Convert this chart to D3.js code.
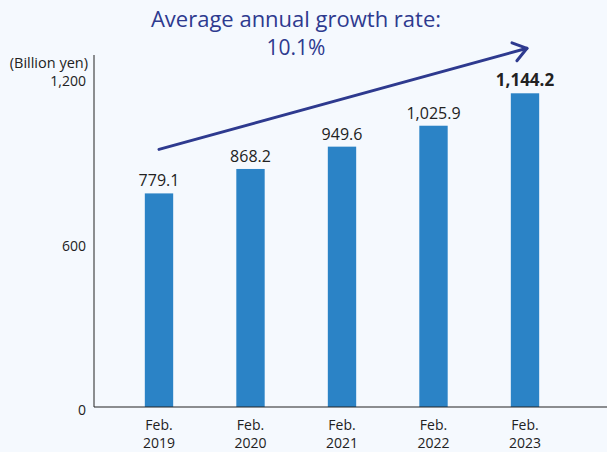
<!DOCTYPE html>
<meta charset="utf-8">
<style>
body { margin: 0; background: #f5f9fe; }
text { font-family: "Open Sans", sans-serif; fill: #222; }
</style>
<body>
<script src="https://cdn.jsdelivr.net/npm/d3@7"></script>
<script>

// data
var years = ["2019", "2020", "2021", "2022", "2023"];
var values = [779.1, 868.2, 949.6, 1025.9, 1144.2];
var yTicks = [0, 600, 1200];

var width = 607, height = 452;

var svg = d3.select("body").append("svg")
    .attr("width", width)
    .attr("height", height);

svg.append("rect")
    .attr("width", width).attr("height", height)
    .attr("fill", "#f5f9fe");

// scales
var x = d3.scaleBand().domain(years).range([113.25, 570.75])
    .paddingInner(0.69).paddingOuter(0.345);
var y = d3.scaleLinear().domain([0, 1200]).range([407, 78]);

// bars
svg.selectAll(".bar")
    .data(values).enter()
  .append("rect")
    .attr("class", "bar")
    .attr("x", function(d, i) { return x(years[i]); })
    .attr("width", x.bandwidth())
    .attr("y", function(d) { return y(d); })
    .attr("height", function(d) { return y(0) - y(d); })
    .attr("fill", "#2b83c6");

// value labels
svg.selectAll(".val")
    .data(values).enter()
  .append("text")
    .attr("class", "val")
    .attr("x", function(d, i) { return x(years[i]) + x.bandwidth() / 2; })
    .attr("y", function(d) { return y(d) - 7; })
    .attr("text-anchor", "middle")
    .style("font-size", function(d, i) { return i == values.length - 1 ? "17px" : "16px"; })
    .style("font-weight", function(d, i) { return i == values.length - 1 ? "bold" : "normal"; })
    .text(function(d) { return d3.format(",.1f")(d); });

// axes lines
svg.append("line")
    .attr("x1", 94).attr("x2", 94)
    .attr("y1", 55).attr("y2", y(0))
    .attr("stroke", "#222").attr("stroke-width", 1);
svg.append("line")
    .attr("x1", 94).attr("x2", width)
    .attr("y1", y(0)).attr("y2", y(0))
    .attr("stroke", "#222").attr("stroke-width", 1.2);

// y tick labels
svg.selectAll(".ytick")
    .data(yTicks).enter()
  .append("text")
    .attr("x", 86)
    .attr("y", function(d) { return y(d) + 8; })
    .attr("text-anchor", "end")
    .style("font-size", "14px")
    .text(function(d) { return d3.format(",")(d); });

svg.append("text")
    .attr("x", 88).attr("y", 68)
    .attr("text-anchor", "end")
    .style("font-size", "14.5px")
    .text("(Billion yen)");

// x labels
var xl = svg.selectAll(".xl")
    .data(years).enter()
  .append("text")
    .attr("text-anchor", "middle")
    .style("font-size", "14px");
xl.append("tspan")
    .attr("x", function(d) { return x(d) + x.bandwidth() / 2; })
    .attr("y", 430)
    .text("Feb.");
xl.append("tspan")
    .attr("x", function(d) { return x(d) + x.bandwidth() / 2; })
    .attr("y", 448)
    .text(function(d) { return d; });

// growth arrow
var ax1 = x(years[0]) + x.bandwidth() / 2, ay1 = y(values[0]) - 44;
var ax2 = x(years[4]) + x.bandwidth() / 2 + 2, ay2 = y(values[4]) - 45;
var ang = Math.atan2(ay2 - ay1, ax2 - ax1);
svg.append("line")
    .attr("x1", ax1).attr("y1", ay1)
    .attr("x2", ax2).attr("y2", ay2)
    .attr("stroke", "#2e3a8f").attr("stroke-width", 3)
    .attr("stroke-linecap", "round");
var hl = 16, ha = 0.62;
svg.append("path")
    .attr("d", "M" + (ax2 - hl * Math.cos(ang - ha)) + "," + (ay2 - hl * Math.sin(ang - ha)) +
               "L" + ax2 + "," + ay2 +
               "L" + (ax2 - hl * Math.cos(ang + ha)) + "," + (ay2 - hl * Math.sin(ang + ha)))
    .attr("fill", "none")
    .attr("stroke", "#2e3a8f").attr("stroke-width", 3)
    .attr("stroke-linecap", "round").attr("stroke-linejoin", "round");

// title
svg.append("text")
    .attr("x", 296).attr("y", 27)
    .attr("text-anchor", "middle")
    .style("font-size", "22px")
    .style("fill", "#2e3a8f")
    .text("Average annual growth rate:");
svg.append("text")
    .attr("x", 296).attr("y", 55)
    .attr("text-anchor", "middle")
    .style("font-size", "21px")
    .style("fill", "#2e3a8f")
    .text("10.1%");

</script>
</body>
